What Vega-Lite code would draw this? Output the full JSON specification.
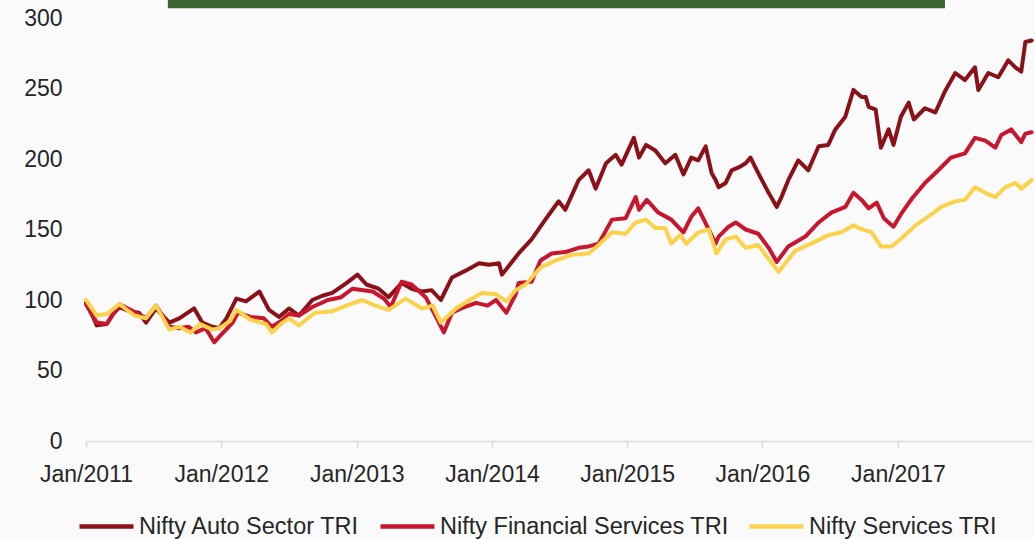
{
  "$schema": "https://vega.github.io/schema/vega-lite/v6.json",
  "width": 946,
  "height": 423,
  "autosize": {"type": "none"},
  "padding": {"left": 86, "top": 18, "right": 3, "bottom": 98},
  "background": "#fafafa",
  "config": {
    "view": {"stroke": null},
    "font": "Liberation Sans"
  },
  "datasets": {
    "series": [
      {"series": "Nifty Auto Sector TRI", "date": "2011-01-01", "value": 98},
      {"series": "Nifty Auto Sector TRI", "date": "2011-01-20", "value": 88},
      {"series": "Nifty Auto Sector TRI", "date": "2011-01-30", "value": 82},
      {"series": "Nifty Auto Sector TRI", "date": "2011-02-26", "value": 83},
      {"series": "Nifty Auto Sector TRI", "date": "2011-03-15", "value": 90},
      {"series": "Nifty Auto Sector TRI", "date": "2011-04-01", "value": 95},
      {"series": "Nifty Auto Sector TRI", "date": "2011-04-28", "value": 92},
      {"series": "Nifty Auto Sector TRI", "date": "2011-05-24", "value": 91},
      {"series": "Nifty Auto Sector TRI", "date": "2011-06-12", "value": 84},
      {"series": "Nifty Auto Sector TRI", "date": "2011-07-09", "value": 94},
      {"series": "Nifty Auto Sector TRI", "date": "2011-08-14", "value": 84},
      {"series": "Nifty Auto Sector TRI", "date": "2011-09-10", "value": 87},
      {"series": "Nifty Auto Sector TRI", "date": "2011-10-20", "value": 94},
      {"series": "Nifty Auto Sector TRI", "date": "2011-11-11", "value": 84},
      {"series": "Nifty Auto Sector TRI", "date": "2011-12-08", "value": 81},
      {"series": "Nifty Auto Sector TRI", "date": "2011-12-27", "value": 80},
      {"series": "Nifty Auto Sector TRI", "date": "2012-01-15", "value": 87},
      {"series": "Nifty Auto Sector TRI", "date": "2012-02-11", "value": 101},
      {"series": "Nifty Auto Sector TRI", "date": "2012-03-08", "value": 99},
      {"series": "Nifty Auto Sector TRI", "date": "2012-04-13", "value": 106},
      {"series": "Nifty Auto Sector TRI", "date": "2012-05-09", "value": 93},
      {"series": "Nifty Auto Sector TRI", "date": "2012-06-05", "value": 88},
      {"series": "Nifty Auto Sector TRI", "date": "2012-07-02", "value": 94},
      {"series": "Nifty Auto Sector TRI", "date": "2012-07-29", "value": 89},
      {"series": "Nifty Auto Sector TRI", "date": "2012-09-03", "value": 100},
      {"series": "Nifty Auto Sector TRI", "date": "2012-09-30", "value": 103},
      {"series": "Nifty Auto Sector TRI", "date": "2012-10-27", "value": 105},
      {"series": "Nifty Auto Sector TRI", "date": "2012-12-04", "value": 112},
      {"series": "Nifty Auto Sector TRI", "date": "2013-01-03", "value": 118},
      {"series": "Nifty Auto Sector TRI", "date": "2013-01-27", "value": 111},
      {"series": "Nifty Auto Sector TRI", "date": "2013-03-01", "value": 108},
      {"series": "Nifty Auto Sector TRI", "date": "2013-03-28", "value": 102},
      {"series": "Nifty Auto Sector TRI", "date": "2013-05-02", "value": 112},
      {"series": "Nifty Auto Sector TRI", "date": "2013-05-29", "value": 108},
      {"series": "Nifty Auto Sector TRI", "date": "2013-06-26", "value": 106},
      {"series": "Nifty Auto Sector TRI", "date": "2013-07-22", "value": 107},
      {"series": "Nifty Auto Sector TRI", "date": "2013-08-16", "value": 100},
      {"series": "Nifty Auto Sector TRI", "date": "2013-09-15", "value": 116},
      {"series": "Nifty Auto Sector TRI", "date": "2013-10-23", "value": 121},
      {"series": "Nifty Auto Sector TRI", "date": "2013-11-27", "value": 126},
      {"series": "Nifty Auto Sector TRI", "date": "2013-12-24", "value": 125},
      {"series": "Nifty Auto Sector TRI", "date": "2014-01-20", "value": 126},
      {"series": "Nifty Auto Sector TRI", "date": "2014-01-28", "value": 118},
      {"series": "Nifty Auto Sector TRI", "date": "2014-03-14", "value": 133},
      {"series": "Nifty Auto Sector TRI", "date": "2014-04-18", "value": 143},
      {"series": "Nifty Auto Sector TRI", "date": "2014-05-25", "value": 157},
      {"series": "Nifty Auto Sector TRI", "date": "2014-06-30", "value": 170},
      {"series": "Nifty Auto Sector TRI", "date": "2014-07-18", "value": 164},
      {"series": "Nifty Auto Sector TRI", "date": "2014-08-23", "value": 185},
      {"series": "Nifty Auto Sector TRI", "date": "2014-09-19", "value": 192},
      {"series": "Nifty Auto Sector TRI", "date": "2014-10-08", "value": 179},
      {"series": "Nifty Auto Sector TRI", "date": "2014-11-05", "value": 197},
      {"series": "Nifty Auto Sector TRI", "date": "2014-12-01", "value": 203},
      {"series": "Nifty Auto Sector TRI", "date": "2014-12-17", "value": 196},
      {"series": "Nifty Auto Sector TRI", "date": "2015-01-19", "value": 215},
      {"series": "Nifty Auto Sector TRI", "date": "2015-02-02", "value": 201},
      {"series": "Nifty Auto Sector TRI", "date": "2015-02-21", "value": 210},
      {"series": "Nifty Auto Sector TRI", "date": "2015-03-18", "value": 206},
      {"series": "Nifty Auto Sector TRI", "date": "2015-04-14", "value": 197},
      {"series": "Nifty Auto Sector TRI", "date": "2015-05-11", "value": 203},
      {"series": "Nifty Auto Sector TRI", "date": "2015-06-02", "value": 189},
      {"series": "Nifty Auto Sector TRI", "date": "2015-06-23", "value": 201},
      {"series": "Nifty Auto Sector TRI", "date": "2015-07-12", "value": 199},
      {"series": "Nifty Auto Sector TRI", "date": "2015-08-01", "value": 209},
      {"series": "Nifty Auto Sector TRI", "date": "2015-08-17", "value": 190},
      {"series": "Nifty Auto Sector TRI", "date": "2015-08-28", "value": 185},
      {"series": "Nifty Auto Sector TRI", "date": "2015-09-05", "value": 180},
      {"series": "Nifty Auto Sector TRI", "date": "2015-09-24", "value": 183},
      {"series": "Nifty Auto Sector TRI", "date": "2015-10-10", "value": 192},
      {"series": "Nifty Auto Sector TRI", "date": "2015-10-29", "value": 194},
      {"series": "Nifty Auto Sector TRI", "date": "2015-11-17", "value": 197},
      {"series": "Nifty Auto Sector TRI", "date": "2015-11-30", "value": 201},
      {"series": "Nifty Auto Sector TRI", "date": "2015-12-21", "value": 190},
      {"series": "Nifty Auto Sector TRI", "date": "2016-01-18", "value": 176},
      {"series": "Nifty Auto Sector TRI", "date": "2016-02-09", "value": 166},
      {"series": "Nifty Auto Sector TRI", "date": "2016-02-20", "value": 172},
      {"series": "Nifty Auto Sector TRI", "date": "2016-03-11", "value": 185},
      {"series": "Nifty Auto Sector TRI", "date": "2016-04-07", "value": 199},
      {"series": "Nifty Auto Sector TRI", "date": "2016-05-04", "value": 192},
      {"series": "Nifty Auto Sector TRI", "date": "2016-06-01", "value": 209},
      {"series": "Nifty Auto Sector TRI", "date": "2016-06-27", "value": 210},
      {"series": "Nifty Auto Sector TRI", "date": "2016-07-16", "value": 221},
      {"series": "Nifty Auto Sector TRI", "date": "2016-08-12", "value": 230},
      {"series": "Nifty Auto Sector TRI", "date": "2016-09-03", "value": 249},
      {"series": "Nifty Auto Sector TRI", "date": "2016-09-25", "value": 244},
      {"series": "Nifty Auto Sector TRI", "date": "2016-10-06", "value": 244},
      {"series": "Nifty Auto Sector TRI", "date": "2016-10-14", "value": 237},
      {"series": "Nifty Auto Sector TRI", "date": "2016-11-02", "value": 235},
      {"series": "Nifty Auto Sector TRI", "date": "2016-11-16", "value": 208},
      {"series": "Nifty Auto Sector TRI", "date": "2016-12-07", "value": 221},
      {"series": "Nifty Auto Sector TRI", "date": "2016-12-20", "value": 210},
      {"series": "Nifty Auto Sector TRI", "date": "2017-01-09", "value": 230},
      {"series": "Nifty Auto Sector TRI", "date": "2017-01-30", "value": 240},
      {"series": "Nifty Auto Sector TRI", "date": "2017-02-13", "value": 228},
      {"series": "Nifty Auto Sector TRI", "date": "2017-03-15", "value": 236},
      {"series": "Nifty Auto Sector TRI", "date": "2017-04-12", "value": 233},
      {"series": "Nifty Auto Sector TRI", "date": "2017-05-08", "value": 248},
      {"series": "Nifty Auto Sector TRI", "date": "2017-06-05", "value": 261},
      {"series": "Nifty Auto Sector TRI", "date": "2017-07-01", "value": 256},
      {"series": "Nifty Auto Sector TRI", "date": "2017-07-28", "value": 265},
      {"series": "Nifty Auto Sector TRI", "date": "2017-08-06", "value": 249},
      {"series": "Nifty Auto Sector TRI", "date": "2017-09-02", "value": 261},
      {"series": "Nifty Auto Sector TRI", "date": "2017-09-29", "value": 258},
      {"series": "Nifty Auto Sector TRI", "date": "2017-10-26", "value": 270},
      {"series": "Nifty Auto Sector TRI", "date": "2017-11-14", "value": 265},
      {"series": "Nifty Auto Sector TRI", "date": "2017-11-30", "value": 262},
      {"series": "Nifty Auto Sector TRI", "date": "2017-12-11", "value": 283},
      {"series": "Nifty Auto Sector TRI", "date": "2017-12-28", "value": 284},

      {"series": "Nifty Financial Services TRI", "date": "2011-01-01", "value": 97},
      {"series": "Nifty Financial Services TRI", "date": "2011-01-30", "value": 84},
      {"series": "Nifty Financial Services TRI", "date": "2011-02-26", "value": 83},
      {"series": "Nifty Financial Services TRI", "date": "2011-04-01", "value": 97},
      {"series": "Nifty Financial Services TRI", "date": "2011-05-01", "value": 93},
      {"series": "Nifty Financial Services TRI", "date": "2011-06-12", "value": 87},
      {"series": "Nifty Financial Services TRI", "date": "2011-07-09", "value": 96},
      {"series": "Nifty Financial Services TRI", "date": "2011-08-14", "value": 81},
      {"series": "Nifty Financial Services TRI", "date": "2011-09-10", "value": 80},
      {"series": "Nifty Financial Services TRI", "date": "2011-10-05", "value": 81},
      {"series": "Nifty Financial Services TRI", "date": "2011-10-25", "value": 77},
      {"series": "Nifty Financial Services TRI", "date": "2011-11-20", "value": 80},
      {"series": "Nifty Financial Services TRI", "date": "2011-12-13", "value": 70},
      {"series": "Nifty Financial Services TRI", "date": "2011-12-27", "value": 74},
      {"series": "Nifty Financial Services TRI", "date": "2012-02-01", "value": 84},
      {"series": "Nifty Financial Services TRI", "date": "2012-02-15", "value": 91},
      {"series": "Nifty Financial Services TRI", "date": "2012-03-20", "value": 88},
      {"series": "Nifty Financial Services TRI", "date": "2012-04-25", "value": 87},
      {"series": "Nifty Financial Services TRI", "date": "2012-05-17", "value": 81},
      {"series": "Nifty Financial Services TRI", "date": "2012-06-10", "value": 85},
      {"series": "Nifty Financial Services TRI", "date": "2012-07-02", "value": 90},
      {"series": "Nifty Financial Services TRI", "date": "2012-07-29", "value": 89},
      {"series": "Nifty Financial Services TRI", "date": "2012-09-03", "value": 95},
      {"series": "Nifty Financial Services TRI", "date": "2012-10-15", "value": 100},
      {"series": "Nifty Financial Services TRI", "date": "2012-11-20", "value": 102},
      {"series": "Nifty Financial Services TRI", "date": "2012-12-20", "value": 108},
      {"series": "Nifty Financial Services TRI", "date": "2013-02-13", "value": 106},
      {"series": "Nifty Financial Services TRI", "date": "2013-03-15", "value": 101},
      {"series": "Nifty Financial Services TRI", "date": "2013-04-03", "value": 95},
      {"series": "Nifty Financial Services TRI", "date": "2013-05-02", "value": 113},
      {"series": "Nifty Financial Services TRI", "date": "2013-05-29", "value": 111},
      {"series": "Nifty Financial Services TRI", "date": "2013-07-06", "value": 102},
      {"series": "Nifty Financial Services TRI", "date": "2013-08-03", "value": 88},
      {"series": "Nifty Financial Services TRI", "date": "2013-08-24", "value": 77},
      {"series": "Nifty Financial Services TRI", "date": "2013-09-15", "value": 91},
      {"series": "Nifty Financial Services TRI", "date": "2013-10-10", "value": 94},
      {"series": "Nifty Financial Services TRI", "date": "2013-11-19", "value": 98},
      {"series": "Nifty Financial Services TRI", "date": "2013-12-20", "value": 96},
      {"series": "Nifty Financial Services TRI", "date": "2014-01-12", "value": 100},
      {"series": "Nifty Financial Services TRI", "date": "2014-02-09", "value": 91},
      {"series": "Nifty Financial Services TRI", "date": "2014-03-06", "value": 104},
      {"series": "Nifty Financial Services TRI", "date": "2014-03-14", "value": 112},
      {"series": "Nifty Financial Services TRI", "date": "2014-04-18", "value": 113},
      {"series": "Nifty Financial Services TRI", "date": "2014-05-12", "value": 128},
      {"series": "Nifty Financial Services TRI", "date": "2014-06-11", "value": 133},
      {"series": "Nifty Financial Services TRI", "date": "2014-07-18", "value": 134},
      {"series": "Nifty Financial Services TRI", "date": "2014-08-23", "value": 137},
      {"series": "Nifty Financial Services TRI", "date": "2014-09-19", "value": 138},
      {"series": "Nifty Financial Services TRI", "date": "2014-10-16", "value": 140},
      {"series": "Nifty Financial Services TRI", "date": "2014-11-21", "value": 157},
      {"series": "Nifty Financial Services TRI", "date": "2014-12-28", "value": 158},
      {"series": "Nifty Financial Services TRI", "date": "2015-01-24", "value": 173},
      {"series": "Nifty Financial Services TRI", "date": "2015-02-02", "value": 164},
      {"series": "Nifty Financial Services TRI", "date": "2015-02-23", "value": 171},
      {"series": "Nifty Financial Services TRI", "date": "2015-03-26", "value": 162},
      {"series": "Nifty Financial Services TRI", "date": "2015-04-30", "value": 157},
      {"series": "Nifty Financial Services TRI", "date": "2015-06-02", "value": 148},
      {"series": "Nifty Financial Services TRI", "date": "2015-06-23", "value": 159},
      {"series": "Nifty Financial Services TRI", "date": "2015-07-12", "value": 165},
      {"series": "Nifty Financial Services TRI", "date": "2015-08-28", "value": 140},
      {"series": "Nifty Financial Services TRI", "date": "2015-09-05", "value": 145},
      {"series": "Nifty Financial Services TRI", "date": "2015-10-02", "value": 152},
      {"series": "Nifty Financial Services TRI", "date": "2015-10-21", "value": 155},
      {"series": "Nifty Financial Services TRI", "date": "2015-11-17", "value": 150},
      {"series": "Nifty Financial Services TRI", "date": "2015-12-21", "value": 147},
      {"series": "Nifty Financial Services TRI", "date": "2016-01-18", "value": 137},
      {"series": "Nifty Financial Services TRI", "date": "2016-02-09", "value": 127},
      {"series": "Nifty Financial Services TRI", "date": "2016-03-11", "value": 138},
      {"series": "Nifty Financial Services TRI", "date": "2016-04-26", "value": 145},
      {"series": "Nifty Financial Services TRI", "date": "2016-06-01", "value": 155},
      {"series": "Nifty Financial Services TRI", "date": "2016-07-05", "value": 162},
      {"series": "Nifty Financial Services TRI", "date": "2016-08-12", "value": 166},
      {"series": "Nifty Financial Services TRI", "date": "2016-09-03", "value": 176},
      {"series": "Nifty Financial Services TRI", "date": "2016-09-25", "value": 171},
      {"series": "Nifty Financial Services TRI", "date": "2016-10-14", "value": 165},
      {"series": "Nifty Financial Services TRI", "date": "2016-11-05", "value": 169},
      {"series": "Nifty Financial Services TRI", "date": "2016-11-24", "value": 158},
      {"series": "Nifty Financial Services TRI", "date": "2016-12-20", "value": 152},
      {"series": "Nifty Financial Services TRI", "date": "2017-01-12", "value": 162},
      {"series": "Nifty Financial Services TRI", "date": "2017-02-08", "value": 172},
      {"series": "Nifty Financial Services TRI", "date": "2017-03-15", "value": 183},
      {"series": "Nifty Financial Services TRI", "date": "2017-04-20", "value": 192},
      {"series": "Nifty Financial Services TRI", "date": "2017-05-24", "value": 201},
      {"series": "Nifty Financial Services TRI", "date": "2017-07-01", "value": 204},
      {"series": "Nifty Financial Services TRI", "date": "2017-07-28", "value": 215},
      {"series": "Nifty Financial Services TRI", "date": "2017-08-25", "value": 213},
      {"series": "Nifty Financial Services TRI", "date": "2017-09-21", "value": 208},
      {"series": "Nifty Financial Services TRI", "date": "2017-10-07", "value": 217},
      {"series": "Nifty Financial Services TRI", "date": "2017-11-03", "value": 221},
      {"series": "Nifty Financial Services TRI", "date": "2017-11-30", "value": 212},
      {"series": "Nifty Financial Services TRI", "date": "2017-12-11", "value": 218},
      {"series": "Nifty Financial Services TRI", "date": "2017-12-28", "value": 219},

      {"series": "Nifty Services TRI", "date": "2011-01-01", "value": 100},
      {"series": "Nifty Services TRI", "date": "2011-01-30", "value": 89},
      {"series": "Nifty Services TRI", "date": "2011-02-26", "value": 90},
      {"series": "Nifty Services TRI", "date": "2011-04-01", "value": 97},
      {"series": "Nifty Services TRI", "date": "2011-05-12", "value": 89},
      {"series": "Nifty Services TRI", "date": "2011-06-12", "value": 87},
      {"series": "Nifty Services TRI", "date": "2011-07-09", "value": 96},
      {"series": "Nifty Services TRI", "date": "2011-08-14", "value": 79},
      {"series": "Nifty Services TRI", "date": "2011-09-10", "value": 81},
      {"series": "Nifty Services TRI", "date": "2011-10-10", "value": 77},
      {"series": "Nifty Services TRI", "date": "2011-11-05", "value": 83},
      {"series": "Nifty Services TRI", "date": "2011-12-08", "value": 79},
      {"series": "Nifty Services TRI", "date": "2011-12-27", "value": 80},
      {"series": "Nifty Services TRI", "date": "2012-01-25", "value": 85},
      {"series": "Nifty Services TRI", "date": "2012-02-11", "value": 93},
      {"series": "Nifty Services TRI", "date": "2012-03-20", "value": 86},
      {"series": "Nifty Services TRI", "date": "2012-05-01", "value": 83},
      {"series": "Nifty Services TRI", "date": "2012-05-17", "value": 77},
      {"series": "Nifty Services TRI", "date": "2012-06-10", "value": 83},
      {"series": "Nifty Services TRI", "date": "2012-07-02", "value": 87},
      {"series": "Nifty Services TRI", "date": "2012-07-29", "value": 82},
      {"series": "Nifty Services TRI", "date": "2012-09-10", "value": 91},
      {"series": "Nifty Services TRI", "date": "2012-10-27", "value": 92},
      {"series": "Nifty Services TRI", "date": "2012-12-04", "value": 96},
      {"series": "Nifty Services TRI", "date": "2013-01-16", "value": 100},
      {"series": "Nifty Services TRI", "date": "2013-02-20", "value": 96},
      {"series": "Nifty Services TRI", "date": "2013-03-28", "value": 93},
      {"series": "Nifty Services TRI", "date": "2013-05-13", "value": 101},
      {"series": "Nifty Services TRI", "date": "2013-06-26", "value": 94},
      {"series": "Nifty Services TRI", "date": "2013-07-25", "value": 96},
      {"series": "Nifty Services TRI", "date": "2013-08-16", "value": 84},
      {"series": "Nifty Services TRI", "date": "2013-09-26", "value": 94},
      {"series": "Nifty Services TRI", "date": "2013-11-01", "value": 100},
      {"series": "Nifty Services TRI", "date": "2013-12-05", "value": 105},
      {"series": "Nifty Services TRI", "date": "2014-01-12", "value": 104},
      {"series": "Nifty Services TRI", "date": "2014-02-09", "value": 99},
      {"series": "Nifty Services TRI", "date": "2014-03-06", "value": 107},
      {"series": "Nifty Services TRI", "date": "2014-04-02", "value": 111},
      {"series": "Nifty Services TRI", "date": "2014-05-12", "value": 123},
      {"series": "Nifty Services TRI", "date": "2014-06-22", "value": 128},
      {"series": "Nifty Services TRI", "date": "2014-08-04", "value": 132},
      {"series": "Nifty Services TRI", "date": "2014-09-19", "value": 133},
      {"series": "Nifty Services TRI", "date": "2014-10-16", "value": 139},
      {"series": "Nifty Services TRI", "date": "2014-11-21", "value": 148},
      {"series": "Nifty Services TRI", "date": "2014-12-28", "value": 147},
      {"series": "Nifty Services TRI", "date": "2015-01-24", "value": 155},
      {"series": "Nifty Services TRI", "date": "2015-02-21", "value": 157},
      {"series": "Nifty Services TRI", "date": "2015-03-18", "value": 151},
      {"series": "Nifty Services TRI", "date": "2015-04-14", "value": 151},
      {"series": "Nifty Services TRI", "date": "2015-04-30", "value": 140},
      {"series": "Nifty Services TRI", "date": "2015-05-24", "value": 146},
      {"series": "Nifty Services TRI", "date": "2015-06-10", "value": 140},
      {"series": "Nifty Services TRI", "date": "2015-07-12", "value": 148},
      {"series": "Nifty Services TRI", "date": "2015-08-09", "value": 150},
      {"series": "Nifty Services TRI", "date": "2015-08-30", "value": 133},
      {"series": "Nifty Services TRI", "date": "2015-09-24", "value": 143},
      {"series": "Nifty Services TRI", "date": "2015-10-21", "value": 145},
      {"series": "Nifty Services TRI", "date": "2015-11-17", "value": 137},
      {"series": "Nifty Services TRI", "date": "2015-12-21", "value": 139},
      {"series": "Nifty Services TRI", "date": "2016-01-18", "value": 129},
      {"series": "Nifty Services TRI", "date": "2016-02-14", "value": 120},
      {"series": "Nifty Services TRI", "date": "2016-03-30", "value": 135},
      {"series": "Nifty Services TRI", "date": "2016-05-12", "value": 140},
      {"series": "Nifty Services TRI", "date": "2016-06-27", "value": 146},
      {"series": "Nifty Services TRI", "date": "2016-08-02", "value": 148},
      {"series": "Nifty Services TRI", "date": "2016-09-03", "value": 153},
      {"series": "Nifty Services TRI", "date": "2016-09-17", "value": 151},
      {"series": "Nifty Services TRI", "date": "2016-10-22", "value": 148},
      {"series": "Nifty Services TRI", "date": "2016-11-16", "value": 138},
      {"series": "Nifty Services TRI", "date": "2016-12-15", "value": 138},
      {"series": "Nifty Services TRI", "date": "2017-01-12", "value": 144},
      {"series": "Nifty Services TRI", "date": "2017-02-18", "value": 153},
      {"series": "Nifty Services TRI", "date": "2017-03-23", "value": 159},
      {"series": "Nifty Services TRI", "date": "2017-04-28", "value": 166},
      {"series": "Nifty Services TRI", "date": "2017-06-05", "value": 170},
      {"series": "Nifty Services TRI", "date": "2017-07-01", "value": 171},
      {"series": "Nifty Services TRI", "date": "2017-07-28", "value": 180},
      {"series": "Nifty Services TRI", "date": "2017-08-25", "value": 176},
      {"series": "Nifty Services TRI", "date": "2017-09-21", "value": 173},
      {"series": "Nifty Services TRI", "date": "2017-10-18", "value": 180},
      {"series": "Nifty Services TRI", "date": "2017-11-14", "value": 183},
      {"series": "Nifty Services TRI", "date": "2017-11-30", "value": 179},
      {"series": "Nifty Services TRI", "date": "2017-12-28", "value": 185}
    ],
    "banner": [
      {"start": "2011-08-10", "end": "2017-05-08", "top": 313, "bottom": 307}
    ]
  },
  "layer": [
    {
      "data": {"name": "banner"},
      "mark": {"type": "rect", "color": "#3b6530", "clip": false},
      "encoding": {
        "x": {"field": "start", "type": "temporal"},
        "x2": {"field": "end"},
        "y": {"field": "top", "type": "quantitative"},
        "y2": {"field": "bottom"}
      }
    },
    {
      "data": {"name": "series"},
      "mark": {"type": "line", "strokeWidth": 4, "strokeJoin": "round", "strokeCap": "round"},
      "encoding": {
        "x": {
          "field": "date",
          "type": "temporal",
          "scale": {"domain": ["2011-01-01", "2017-12-29"]},
          "axis": {
            "title": null,
            "format": "%b/%Y",
            "tickCount": {"interval": "year", "step": 1},
            "grid": false,
            "domainColor": "#d9d9d9",
            "domainWidth": 1.5,
            "tickColor": "#d9d9d9",
            "tickWidth": 1.5,
            "tickSize": 6,
            "labelFont": "Liberation Sans",
            "labelFontSize": 23,
            "labelColor": "#262626",
            "labelPadding": 16,
            "labelFlush": false,
            "labelOverlap": false
          }
        },
        "y": {
          "field": "value",
          "type": "quantitative",
          "scale": {"domain": [0, 300], "nice": false},
          "axis": {
            "title": null,
            "values": [0, 50, 100, 150, 200, 250, 300],
            "grid": false,
            "domain": false,
            "ticks": false,
            "labelFont": "Liberation Sans",
            "labelFontSize": 23,
            "labelColor": "#262626",
            "labelPadding": 24
          }
        },
        "color": {
          "field": "series",
          "type": "nominal",
          "scale": {
            "domain": ["Nifty Auto Sector TRI", "Nifty Financial Services TRI", "Nifty Services TRI"],
            "range": ["#8b1119", "#c9152e", "#fdd24b"]
          },
          "legend": {
            "title": null,
            "orient": "none",
            "legendX": -9,
            "legendY": 479,
            "direction": "horizontal",
            "symbolType": "stroke",
            "symbolSize": 2916,
            "symbolStrokeWidth": 4.5,
            "labelFont": "Liberation Sans",
            "labelFontSize": 23.5,
            "labelColor": "#262626",
            "labelOffset": 3,
            "columnPadding": 11,
            "padding": 0,
            "labelLimit": 400
          }
        }
      }
    }
  ]
}
